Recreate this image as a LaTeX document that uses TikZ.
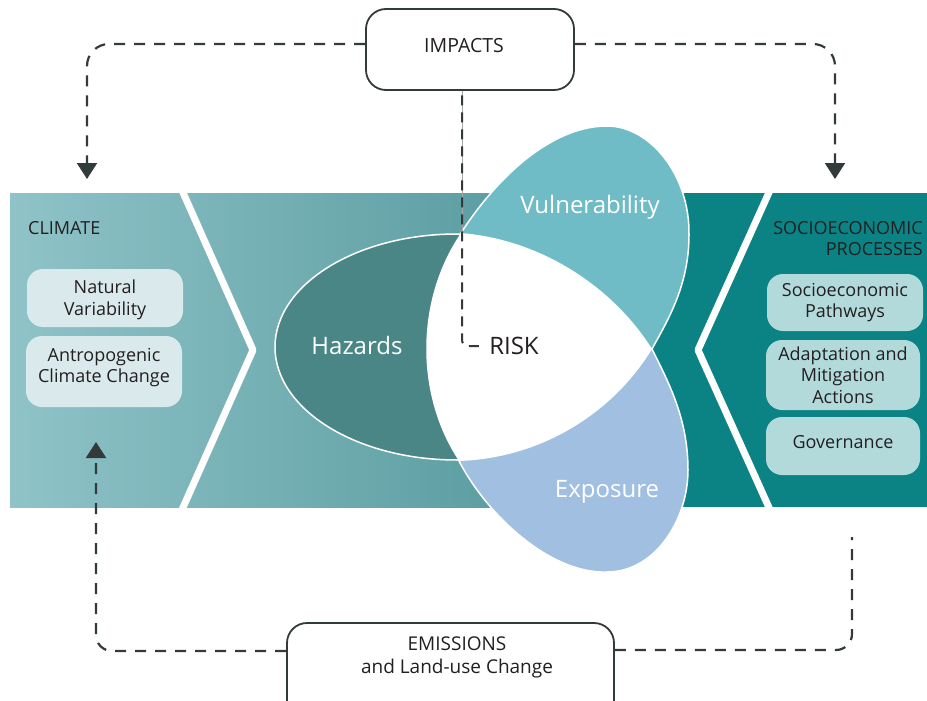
\documentclass[tikz,border=0pt]{standalone}
\usepackage{fontspec}
\setmainfont{Open Sans}
\usetikzlibrary{arrows.meta}
\definecolor{bandL}{HTML}{8FC3C8}
\definecolor{bandR}{HTML}{5C9EA2}
\definecolor{darkteal}{HTML}{0B8384}
\definecolor{hazC}{HTML}{4B8686}
\definecolor{vulnC}{HTML}{70BCC6}
\definecolor{expoC}{HTML}{A0BFE1}
\definecolor{boxL}{HTML}{DAE9EB}
\definecolor{boxR}{HTML}{B2DADB}
\definecolor{textC}{HTML}{231F20}
\definecolor{lineC}{HTML}{333A3A}
\newcommand{\myfs}[2]{\fontsize{#1}{#2}\selectfont}
\begin{document}
\begin{tikzpicture}[x=1pt,y=-1pt,
  conn/.style={draw=lineC, line width=2.2pt, dash pattern=on 11pt off 9pt},
  headed/.style={-{Triangle[length=16pt,width=20pt]}},
  frame/.style={draw=lineC, line width=1.8pt, rounded corners=20pt, fill=white, inner sep=0pt},
  leftbox/.style={fill=boxL, rounded corners=16pt, inner sep=0pt, text=textC, align=center, font=\myfs{18}{21.5}},
  rightbox/.style={fill=boxR, rounded corners=16pt, inner sep=0pt, text=textC, align=center, font=\myfs{18}{21.5}},
  txt/.style={text=textC, align=center, inner sep=0pt, font=\myfs{18}{21.5}},
  big/.style={text=white, inner sep=0pt, font=\myfs{24}{28}}]
\useasboundingbox (0,0) rectangle (927,701);
\clip (0,0) rectangle (927,701);

% band
\fill[left color=bandL, right color=bandR] (10,193) rectangle (500,507);
\fill[bandR] (499,193) rectangle (642,507);
\fill[darkteal] (640,193) rectangle (927,507);
\draw[white, line width=7pt, line join=round] (181,188) -- (253,350) -- (181,512);
\draw[white, line width=7pt, line join=round] (771,188) -- (698,350) -- (771,512);

% hazards
\fill[hazC] (457,347) ellipse [x radius=182, y radius=113];
\draw[white, line width=1.5pt] (457,347) ellipse [x radius=182, y radius=113];

% petals
\coordinate (pA) at (461,233);
\coordinate (pB) at (652,349);
\coordinate (pC) at (459,461);
\filldraw[fill=vulnC, draw=white, line width=1.5pt]
  (pA) .. controls (495,180) and (550,126) .. (607,126)
  .. controls (650,126) and (690,175) .. (689,235)
  .. controls (689,285) and (668,320) .. (pB) -- cycle;
\filldraw[fill=expoC, draw=white, line width=1.5pt]
  (pC) .. controls (487,515) and (550,574) .. (607,572)
  .. controls (655,572) and (688,520) .. (688,470)
  .. controls (688,420) and (670,385) .. (pB) -- cycle;
\fill[white]
  (pA) .. controls (545,240) and (615,290) .. (pB)
  .. controls (615,410) and (545,458) .. (pC)
  .. controls (415,395) and (415,300) .. (pA) -- cycle;

% labels in the band
\node[big] (hazT) at (357,345) {Hazards};
\node[big] (vulnT) at (590,207) {Vulnerability};
\node[big] (expoT) at (607,492) {Exposure};
\node[big, text=textC] (riskT) at (514,346) {RISK};

\node[txt, anchor=north west] (climT) at (28,221) {CLIMATE};
\node[txt, anchor=north east, align=right] (socT) at (923,221) {SOCIOECONOMIC\\PROCESSES};

% left boxes
\node[leftbox, minimum width=156pt, minimum height=58pt] (natB) at (105,298) {};
\node[txt] (natT) at (105,300) {Natural\\Variability};
\node[leftbox, minimum width=156pt, minimum height=71pt] (antB) at (104,371.5) {};
\node[txt] (antT) at (104,367.5) {Antropogenic\\Climate Change};

% right boxes
\node[rightbox, minimum width=156pt, minimum height=57pt] (pathB) at (845,302.5) {Socioeconomic\\Pathways};
\node[rightbox, minimum width=154pt, minimum height=70pt] (adaB) at (843,375) {Adaptation and\\Mitigation\\Actions};
\node[rightbox, minimum width=154pt, minimum height=58pt] (govB) at (843,446) {};
\node[txt] (govT) at (843,442) {Governance};

% impacts / emissions
\node[frame, minimum width=208pt, minimum height=81pt] (impacts) at (470,49.5) {};
\node[txt, font=\myfs{19.5}{23}] (impT) at (464,46) {IMPACTS};
\node[frame, minimum width=327pt, minimum height=117pt] (emissions) at (450.5,681.5) {};
\node[txt, font=\myfs{19}{23}] (emT) at (457,657) {EMISSIONS\\and Land-use Change};

% connectors
\coordinate (climIn) at (87,179);
\coordinate (socIn) at (835,179);
\coordinate (climUp) at (96,442);
\coordinate (socOut) at (852,537);
\draw[conn, headed, rounded corners=22pt] ([yshift=5.5pt]impacts.west) -- (87,44) -- (climIn);
\draw[conn, headed, rounded corners=22pt] ([yshift=5.5pt]impacts.east) -- (835,44) -- (socIn);
\draw[conn, headed, rounded corners=16pt] ([yshift=30.5pt]emissions.west) -- (96,651) -- (climUp);
\draw[conn, rounded corners=16pt] ([yshift=31.5pt]emissions.east) -- (852,650) -- (socOut);

\draw[gray!70, line width=1pt] ([xshift=-8pt]impacts.south) -- (462,233);
\draw[draw=lineC, line width=2pt, dash pattern=on 10pt off 7pt, dash phase=12.6pt, rounded corners=6pt]
  ([xshift=-8pt]impacts.south) -- (462,346) -- (480,346);
\end{tikzpicture}
\end{document}
